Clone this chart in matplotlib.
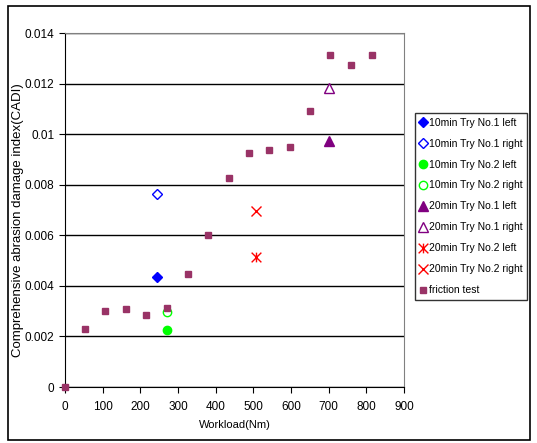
import matplotlib
matplotlib.use("Agg")
import matplotlib.pyplot as plt
from matplotlib.path import Path
from matplotlib.patches import Rectangle

plt.rcParams['font.family'] = ['Liberation Sans', 'DejaVu Sans']

# friction test series
friction_x = [0, 53, 107, 161, 215, 272, 326, 380, 435, 488, 542, 597, 650, 704, 759, 815]
friction_y = [0.0, 0.00228, 0.00302, 0.00308, 0.00285, 0.00313, 0.00446, 0.00601,
              0.00826, 0.00925, 0.00936, 0.00948, 0.01091, 0.01313, 0.01275, 0.01313]

# single tries
try_labels = ["10min Try No.1 left", "10min Try No.1 right",
              "10min Try No.2 left", "10min Try No.2 right",
              "20min Try No.1 left", "20min Try No.1 right",
              "20min Try No.2 left", "20min Try No.2 right"]
try_x = [244, 244, 270, 270, 700, 700, 507, 507]
try_y = [0.00437, 0.00762, 0.00224, 0.00296, 0.00973, 0.01182, 0.00514, 0.00695]

xticks = [0, 100, 200, 300, 400, 500, 600, 700, 800, 900]
yticks = [0, 0.002, 0.004, 0.006, 0.008, 0.01, 0.012, 0.014]
ytick_labels = ["0", "0.002", "0.004", "0.006", "0.008", "0.01", "0.012", "0.014"]

# X with a vertical bar (Excel "star" marker)
star = Path([(-1, -1), (1, 1), (-1, 1), (1, -1), (0, -1), (0, 1)],
            [Path.MOVETO, Path.LINETO, Path.MOVETO, Path.LINETO, Path.MOVETO, Path.LINETO])

styles = [
    dict(marker='D', color='#0000FF', mfc='#0000FF', ms=5),
    dict(marker='D', color='#0000FF', mfc='white', ms=5),
    dict(marker='o', color='#00FF00', mfc='#00FF00', ms=6),
    dict(marker='o', color='#00FF00', mfc='white', ms=6),
    dict(marker='^', color='#800080', mfc='#800080', ms=7),
    dict(marker='^', color='#800080', mfc='white', ms=7),
    dict(marker=star, color='#FF0000', mfc='none', ms=7),
    dict(marker='x', color='#FF0000', mfc='none', ms=7),
]

fig = plt.figure(figsize=(5.37, 4.43), dpi=100)
fig.patches.append(Rectangle((8 / 537, 3 / 443), 522 / 537, 434 / 443, transform=fig.transFigure,
                             fill=False, edgecolor='black', linewidth=1.2))
ax = fig.add_axes([65 / 537, 1 - 387 / 443, 339 / 537, 354 / 443])

for lab, xv, yv, st in zip(try_labels, try_x, try_y, styles):
    ax.plot([xv], [yv], linestyle='none', label=lab, mew=1.0, **st)
ax.plot(friction_x, friction_y, linestyle='none', marker='s', ms=4.5, color='#993366',
        label='friction test', clip_on=False, zorder=5)

ax.set_xlim(0, 900)
ax.set_ylim(0, 0.014)
ax.set_xticks(xticks)
ax.set_xticklabels([str(t) for t in xticks])
ax.set_yticks(yticks)
ax.set_yticklabels(ytick_labels)
ax.yaxis.grid(True, color='black', linewidth=1.0)
ax.set_axisbelow(True)
ax.tick_params(axis='x', direction='out', length=4, labelsize=8.5, pad=6)
ax.tick_params(axis='y', direction='out', length=4, labelsize=8.5)
ax.spines['top'].set_color('#808080')
ax.spines['right'].set_color('#808080')

ax.set_xlabel("Workload(Nm)", fontsize=8, labelpad=5)
ax.set_ylabel("Comprehensive abrasion damage index(CADI)", fontsize=9.5)
ax.yaxis.set_label_coords(-0.12, 0.47)

leg = fig.legend(loc='upper left', bbox_to_anchor=(415 / 537, 1 - 113 / 443), fontsize=7.5,
                 frameon=True, fancybox=False, edgecolor='black', handlelength=0.6,
                 handletextpad=0.25, borderpad=0.45, labelspacing=1.05, borderaxespad=0)
leg.get_frame().set_linewidth(1.0)

fig.savefig("out.png", dpi=100)
